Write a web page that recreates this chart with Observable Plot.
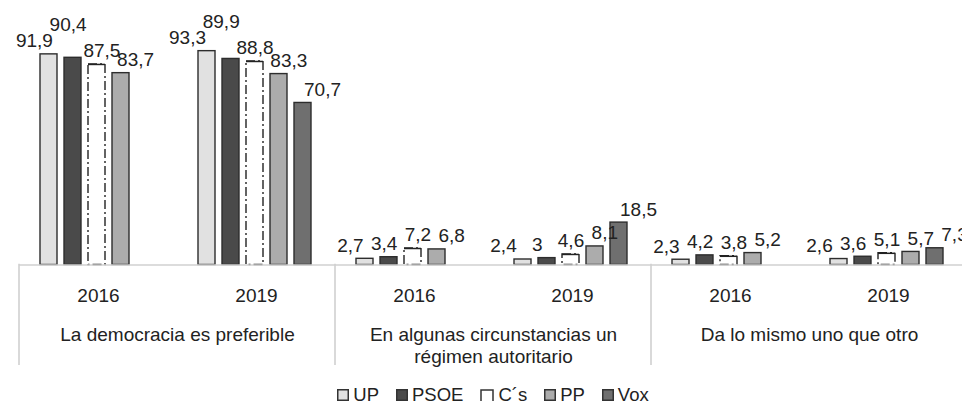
<!DOCTYPE html>
<html><head><meta charset="utf-8">
<script src="https://cdn.jsdelivr.net/npm/d3@7"></script>
<script src="https://cdn.jsdelivr.net/npm/@observablehq/plot@0.6"></script>
<style>
html,body{margin:0;padding:0;background:#fff;overflow:hidden}
#wrap{width:962px;overflow:hidden}
#legend{display:flex;justify-content:center;align-items:center;margin-left:18px;width:950px;height:46px;font:18.5px "Liberation Sans",Arial,sans-serif;color:#222}
.item{display:flex;align-items:center;margin:0 8.5px}
.item svg{margin-right:4px;display:block}
</style></head><body><div id="wrap"><div id="chart"></div><div id="legend"></div></div>
<script>
// ---- data ----
const categories = ["La democracia es preferible", "En algunas circunstancias un\nrégimen autoritario", "Da lo mismo uno que otro"];
const years = ["2016", "2019"];
const parties = ["UP", "PSOE", "C´s", "PP", "Vox"];
// values per group: [cat0-2016, cat0-2019, cat1-2016, cat1-2019, cat2-2016, cat2-2019]
const UP   = [91.9, 93.3, 2.7, 2.4, 2.3, 2.6];
const PSOE = [90.4, 89.9, 3.4, 3.0, 4.2, 3.6];
const CS   = [87.5, 88.8, 7.2, 4.6, 3.8, 5.1];
const PP   = [83.7, 83.3, 6.8, 8.1, 5.2, 5.7];
const VOX  = [null, 70.7, null, 18.5, null, 7.3];
const series = [UP, PSOE, CS, PP, VOX];
const fills = ["#e1e1e1", "#4a4a4a", "#ffffff", "#acacac", "#6f6f6f"];

// ---- layout ----
const W = 968, H = 372, ML = 18, MR = 0, MT = 35.3, MB = 107.5;
const PI = 0.28, PO = 0.885, AL = 0.48;
const FS = 19;
const FONT = '"Liberation Sans", Arial, Helvetica, sans-serif';

const keys = [];
categories.forEach((c, ci) => years.forEach(yr => keys.push(ci + "|" + yr)));

const rows = [];
keys.forEach((key, gi) => parties.forEach((p, pi) => {
  const v = series[pi][gi];
  if (v != null) rows.push({key, party: p, value: v});
}));

// label layout (spread horizontally, lift on collision)
const y0 = H - MB, ppu = (H - MB - MT) / 100;
const fw = (W - ML - MR) / keys.length;
const band = d3.scaleBand().domain(parties).range([0, fw]).paddingInner(PI).paddingOuter(PO).align(AL);
const center = p => band(p) + band.bandwidth() / 2;
const fmt = v => String(v).replace(".", ",");
const textW = s => [...s].reduce((a, c) => a + (c === "," ? 0.278 : 0.556), 0) * FS;
const SPREAD = 1.4, GAP = 7, TH = 14;
const labels = [];
keys.forEach(key => {
  const g = rows.filter(r => r.key === key);
  const mean = d3.mean(g, r => center(r.party));
  const placed = [];
  g.forEach(r => {
    const dx = Math.round((center(r.party) - mean) * (SPREAD - 1) * 10) / 10;
    const cx = center(r.party) + dx;
    const text = fmt(r.value), w = textW(text);
    let base = y0 - r.value * ppu - GAP;
    for (const p of placed) {
      if (Math.abs(cx - p.cx) < (w + p.w) / 2 - 2 && base > p.base - TH && base - p.base < 8.3) {
        base = p.base - TH - 2;
      }
    }
    placed.push({cx, w, base});
    labels.push({key, party: r.party, text, dx, ly: (y0 - base) / ppu});
  });
});

const solid = rows.filter(r => r.party !== "C´s");
const cs = rows.filter(r => r.party === "C´s");
const labelMarks = Array.from(d3.group(labels, d => d.dx), ([dx, arr]) =>
  Plot.text(arr, {fx: "key", x: "party", y: "ly", text: "text", dx, lineAnchor: "bottom", fontSize: FS, fill: "#222"}));

const catLabels = categories.map((c, ci) => ({key: ci + "|2016", label: c}));

const plot = Plot.plot({
  width: W, height: H,
  marginLeft: ML, marginRight: MR, marginTop: MT, marginBottom: MB,
  style: {fontFamily: FONT, fontSize: FS + "px", color: "#222", background: "#fff", maxWidth: "none"},
  fx: {domain: keys, padding: 0, axis: "bottom", tickFormat: k => k.split("|")[1], tickSize: 0, tickPadding: 23.5, label: null},
  x: {domain: parties, paddingInner: PI, paddingOuter: PO, align: AL, axis: null},
  y: {domain: [0, 100], axis: null},
  color: {domain: parties, range: fills},
  marks: [
    Plot.barY(solid, {fx: "key", x: "party", y: "value", fill: "party", stroke: "#2d2d2d", strokeWidth: 1.4}),
    Plot.barY(cs, {fx: "key", x: "party", y: "value", fill: "#fff", stroke: "#222", strokeWidth: 1.4, strokeDasharray: "9,3,2,3"}),
    Plot.tickY(cs, {fx: "key", x: "party", y: "value", stroke: "#222", strokeWidth: 1.5}),
    Plot.ruleY([0], {stroke: "#d0d0d0", strokeWidth: 1.6}),
    ...labelMarks,
    Plot.text(catLabels, {fx: "key", text: "label", frameAnchor: "bottom-right", textAnchor: "middle", lineAnchor: "top", dy: 60.5, lineHeight: 1.14, fontSize: FS, fill: "#222"})
  ]
});

// separators between categories, placed with the plot's own scales
const fxS = plot.scale("fx"), yS = plot.scale("y");
const base0 = yS.apply(0);
d3.select(plot).append("g").attr("stroke", "#d0d0d0").attr("stroke-width", 1.6)
  .selectAll("line").data(catLabels).join("line")
  .attr("x1", d => fxS.apply(d.key)).attr("x2", d => fxS.apply(d.key))
  .attr("y1", base0 - 0.8).attr("y2", base0 + 100.5);

document.getElementById("chart").append(plot);

// legend
const legend = d3.select("#legend");
parties.forEach((p, i) => {
  const item = legend.append("div").attr("class", "item");
  const isCs = p === "C´s";
  const s = item.append("svg").attr("width", isCs ? 14 : 12).attr("height", 12);
  if (isCs) {
    s.append("path").attr("d", "M1,12V1H13V12").attr("fill", "#fff").attr("stroke", "#333").attr("stroke-width", 1.5);
  } else {
    s.append("rect").attr("x", 0.75).attr("y", 0.75).attr("width", 10.5).attr("height", 10.5)
      .attr("fill", fills[i]).attr("stroke", "#333").attr("stroke-width", 1.5);
  }
  item.append("span").text(p);
});
</script></body></html>
